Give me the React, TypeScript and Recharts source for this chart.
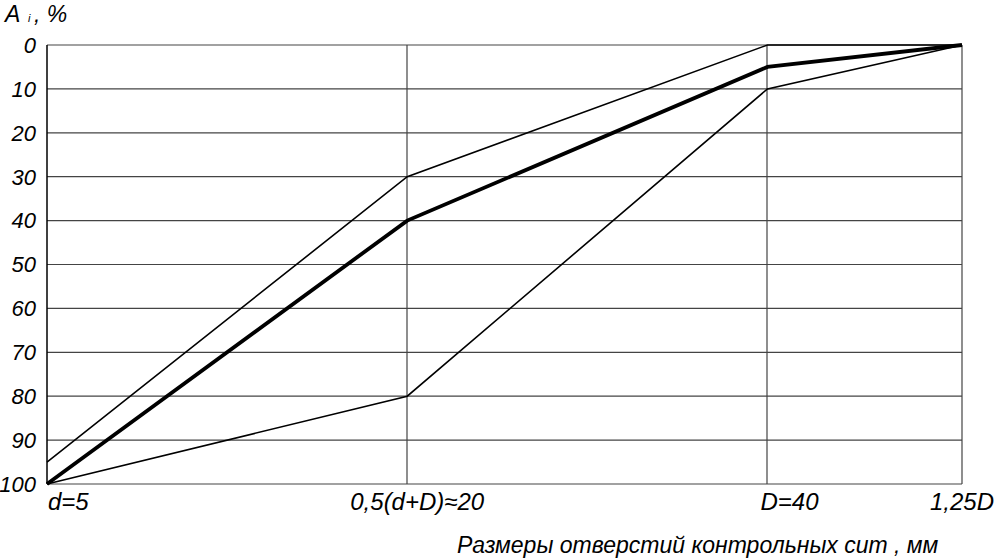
import { LineChart, Line, XAxis, YAxis, CartesianGrid, Label } from 'recharts'

// x positions of the sieve sizes (plot is not to scale)
const sievePos = [0, 1, 2, 2.54]
const sieveLabels = ['d=5', '0,5(d+D)≈20', 'D=40', '1,25D']
const upperLimit = [95, 30, 0, 0]
const lowerLimit = [100, 80, 10, 0]
const middle = [100, 40, 5, 0]
const yTicks = [0, 10, 20, 30, 40, 50, 60, 70, 80, 90, 100]

const data = sievePos.map((x, i) => ({
  x,
  upper: upperLimit[i],
  lower: lowerLimit[i],
  mid: middle[i],
}))

const FONT = '"Liberation Sans", Arial, sans-serif'

// label anchors: d=5 starts at its tick, the middle ones sit a bit off, 1,25D is centred
const tickShift = [1, 10, -7, 0]
const tickAnchor = ['start', 'middle', 'start', 'middle']

function XTick(props: any) {
  const { x, y, payload, index } = props
  return (
    <text
      x={x + tickShift[index]}
      y={y + 18}
      textAnchor={tickAnchor[index]}
      fontFamily={FONT}
      fontStyle="italic"
      fontSize={24}
      fill="#000"
    >
      {sieveLabels[sievePos.indexOf(payload.value)]}
    </text>
  )
}

export default function App() {
  return (
    <div style={{ position: 'absolute', left: 0, top: 0 }}>
      <LineChart width={996} height={558} data={data} margin={{ top: 45, right: 34, bottom: 0, left: 0 }}>
        <CartesianGrid stroke="#444" strokeWidth={1.2} verticalPoints={[407, 767, 962]} />
        <XAxis
          dataKey="x"
          type="number"
          domain={[0, 2.54]}
          ticks={sievePos}
          height={74}
          axisLine={false}
          tickLine={false}
          tick={<XTick />}
          interval={0}
        >
          <Label
            content={() => (
              <text x={457} y={553} fontFamily={FONT} fontStyle="italic" fontSize={23} fill="#000">
                Размеры отверстий контрольных сит , мм
              </text>
            )}
          />
        </XAxis>
        <YAxis
          type="number"
          reversed
          domain={[0, 100]}
          ticks={yTicks}
          width={47}
          interval={0}
          tickLine={false}
          axisLine={{ stroke: '#000', strokeWidth: 1.5 }}
          tickMargin={5}
          tick={{ fontFamily: FONT, fontStyle: 'italic', fontSize: 22, fill: '#000' }}
        >
          <Label
            content={() => (
              <text y={22} fontFamily={FONT} fontStyle="italic" fill="#000">
                <tspan x={5} fontSize={23}>A</tspan>
                <tspan x={28} fontSize={11}>i</tspan>
                <tspan x={34} fontSize={23}>, %</tspan>
              </text>
            )}
          />
        </YAxis>
        <Line dataKey="upper" stroke="#000" strokeWidth={1.6} dot={false} isAnimationActive={false} />
        <Line dataKey="lower" stroke="#000" strokeWidth={1.6} dot={false} isAnimationActive={false} />
        <Line dataKey="mid" stroke="#000" strokeWidth={3.8} dot={false} isAnimationActive={false} />
      </LineChart>
    </div>
  )
}
